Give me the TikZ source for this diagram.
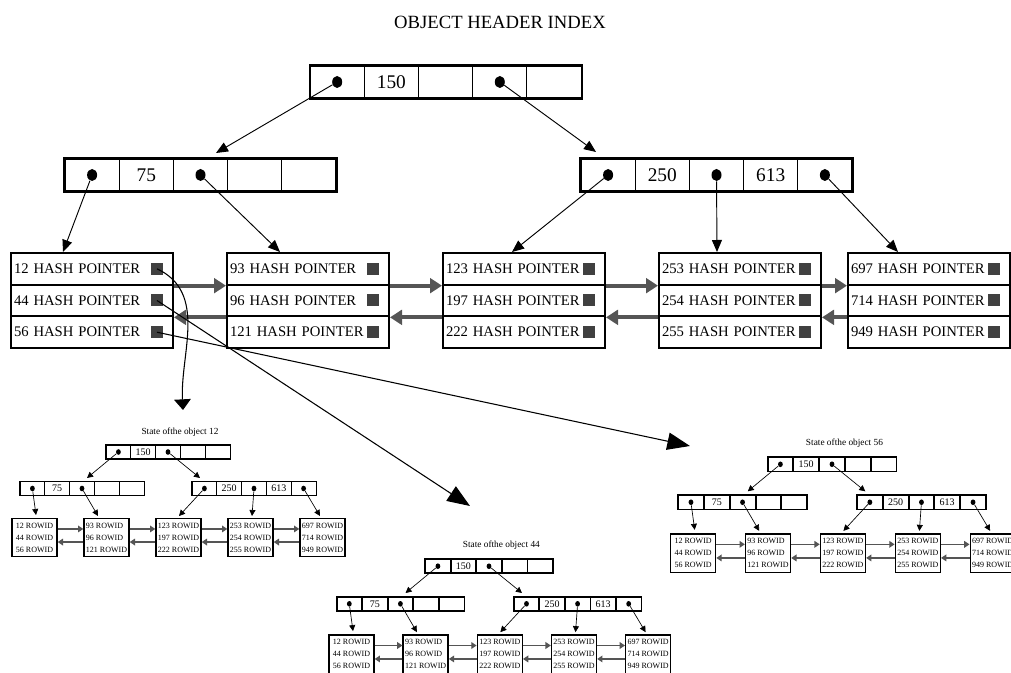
\documentclass[tikz,border=0pt]{standalone}
\usepackage{fontspec}
\setmainfont{Liberation Serif}
\usetikzlibrary{arrows.meta,shapes.geometric}

\definecolor{sqgray}{RGB}{64,64,64}
\definecolor{chaingray}{RGB}{85,85,85}

\tikzset{
  cell/.style={draw,line width=0.8pt,minimum width=40.65pt,minimum height=24pt,inner sep=0pt,font=\fontsize{14.5}{16}\selectfont},
  outline/.style={line width=1.6pt},
  ptrdot/.style={ellipse,fill,inner sep=0pt,minimum width=7.5pt,minimum height=9pt},
  link/.style={line width=0.7pt,-{Triangle[length=9pt,width=7.5pt]}},
  hrow/.style={draw,line width=1.5pt,minimum height=23.8pt,text width=117pt,inner xsep=2.25pt,inner ysep=0pt,align=left,font=\fontsize{11}{13}\selectfont},
  hsq/.style={fill=sqgray,minimum size=9pt,inner sep=0pt},
  hchain/.style={draw=chaingray,line width=3pt,-{Triangle[length=9pt,width=11pt]}},
  pointer/.style={line width=0.8pt,-{Triangle[length=17pt,width=13pt]}},
  stitle/.style={font=\fontsize{7}{8}\selectfont},
  scell/.style={draw,line width=0.6pt,minimum width=18.6pt,minimum height=10pt,inner sep=0pt,font=\fontsize{7.5}{8}\selectfont},
  soutline/.style={line width=1.1pt},
  sdot/.style={ellipse,fill,inner sep=0pt,minimum width=3.6pt,minimum height=4.2pt},
  slink/.style={line width=0.5pt,-{Triangle[length=4.5pt,width=4.5pt]}},
  sleaf/.style={draw,line width=1pt,minimum width=33.75pt,minimum height=27.75pt,inner xsep=0.8pt,align=left,font=\fontsize{6}{9}\selectfont},
  schain/.style={draw=chaingray,line width=1.1pt,-{Triangle[length=4pt,width=5pt]}},
}

% small copy of the index: root top centre, object, scale
\newcommand{\objstate}[4]{%
\begin{scope}[shift={(#1,#2)},scale=#4]
\node[stitle] (t#3) at (12,-13) {State ofthe object #3};
\foreach \v [count=\k] in {{},150,{},{},{}}
  \node[scell] (#3r\k) at (-74.4+24.8*\k,7) {\v};
\foreach \v [count=\k] in {{},75,{},{},{}}
  \node[scell] (#3a\k) at (-160.4+24.8*\k,43.5) {\v};
\foreach \v [count=\k] in {{},250,{},613,{}}
  \node[scell] (#3b\k) at (11.6+24.8*\k,43.5) {\v};
\foreach \c in {r,a,b}
  \draw[soutline] (#3\c1.north west) rectangle (#3\c5.south east);
\foreach \c in {r1,r3,a1,a3,b1,b3,b5}
  \node[sdot] (#3d\c) at (#3\c) {};
\foreach \a/\b/\c [count=\k] in {12/44/56,93/96/121,123/197/222,253/254/255,697/714/949}
  \node[sleaf] (#3l\k) at (-205.5+72*\k,92.5) {\a\ ROWID\\\b\ ROWID\\\c\ ROWID};
\coordinate (#3ta) at (-81,33);
\coordinate (#3tb) at (32,33);
\coordinate (#3t1) at (-132,70);
\coordinate (#3t2) at (-70,71);
\coordinate (#3t3) at (11,71);
\coordinate (#3t4) at (84,71);
\coordinate (#3t5) at (152,71);
\draw[slink] (#3dr1) -- (#3ta);
\draw[slink] (#3dr3) -- (#3tb);
\draw[slink] (#3da1) -- (#3t1);
\draw[slink] (#3da3) -- (#3t2);
\draw[slink] (#3db1) -- (#3t3);
\draw[slink] (#3db3) -- (#3t4);
\draw[slink] (#3db5) -- (#3t5);
\foreach \k/\j in {1/2,2/3,3/4,4/5} {
  \draw[schain] ([yshift=6.4pt]#3l\k.east) -- ([yshift=6.4pt]#3l\j.west);
  \draw[schain] ([yshift=-3.4pt]#3l\j.west) -- ([yshift=-3.4pt]#3l\k.east);
}
\end{scope}}

\begin{document}
\begin{tikzpicture}[x=0.75pt,y=-0.75pt]
\useasboundingbox (0,0) rectangle (1011,673);
\node[font=\fontsize{14}{16}\selectfont] (title) at (500,22) {OBJECT HEADER INDEX};

\foreach \v [count=\k] in {{},150,{},{},{}}
  \node[cell] (r\k) at (283+54.2*\k,82) {\v};
\foreach \v [count=\k] in {{},75,{},{},{}}
  \node[cell] (a\k) at (37.9+54.2*\k,175) {\v};
\foreach \v [count=\k] in {{},250,{},613,{}}
  \node[cell] (b\k) at (553.9+54.2*\k,175) {\v};
\foreach \c in {r,a,b}
  \draw[outline] (\c1.north west) rectangle (\c5.south east);
\foreach \c in {r1,r4,a1,a3,b1,b3,b5}
  \node[ptrdot] (d\c) at (\c) {};

\coordinate (ta) at (216,153);
\coordinate (tb) at (596,152);
\coordinate (t1) at (63,252);
\coordinate (t2) at (280,252);
\coordinate (t3) at (512,252);
\coordinate (t4) at (717,252);
\coordinate (t5) at (898,252);
\draw[link] (dr1) -- (ta);
\draw[link] (dr4) -- (tb);
\draw[link] (da1) -- (t1);
\draw[link] (da3) -- (t2);
\draw[link] (db1) -- (t3);
\draw[link] (db3) -- (t4);
\draw[link] (db5) -- (t5);

\foreach \x/\a/\b/\c in {11/12/44/56,227/93/96/121,443/123/197/222,659/253/254/255,848/697/714/949} {
  \node[hrow] (h\a) at (\x+81,268.8) {\a\ HASH POINTER};
  \node[hrow] (h\b) at (\x+81,300.5) {\b\ HASH POINTER};
  \node[hrow] (h\c) at (\x+81,332.2) {\c\ HASH POINTER};
  \foreach \n in {\a,\b,\c}
    \node[hsq] (s\n) at ([xshift=-12.75pt]h\n.east) {};
}
\foreach \p/\q/\u/\w in {12/93/96/44,93/123/197/96,123/253/254/197,253/697/714/254} {
  \draw[hchain] (h\p.south east) -- (h\q.south west);
  \draw[hchain] (h\u.south west) -- (h\w.south east);
}

\coordinate (to12) at (183,410);
\coordinate (to44) at (470,506);
\coordinate (to56) at (690,446);
\draw[line width=0.8pt,-{Triangle[length=8pt,width=12.5pt]}] (s12.center) to[out=-25,in=93] (to12);
\draw[pointer] (s44.center) -- (to44);
\draw[pointer] (s56.center) -- (to56);

\objstate{168}{445}{12}{1}
\objstate{489}{559}{44}{1.03}
\objstate{832}{457}{56}{1.04}
\end{tikzpicture}
\end{document}
